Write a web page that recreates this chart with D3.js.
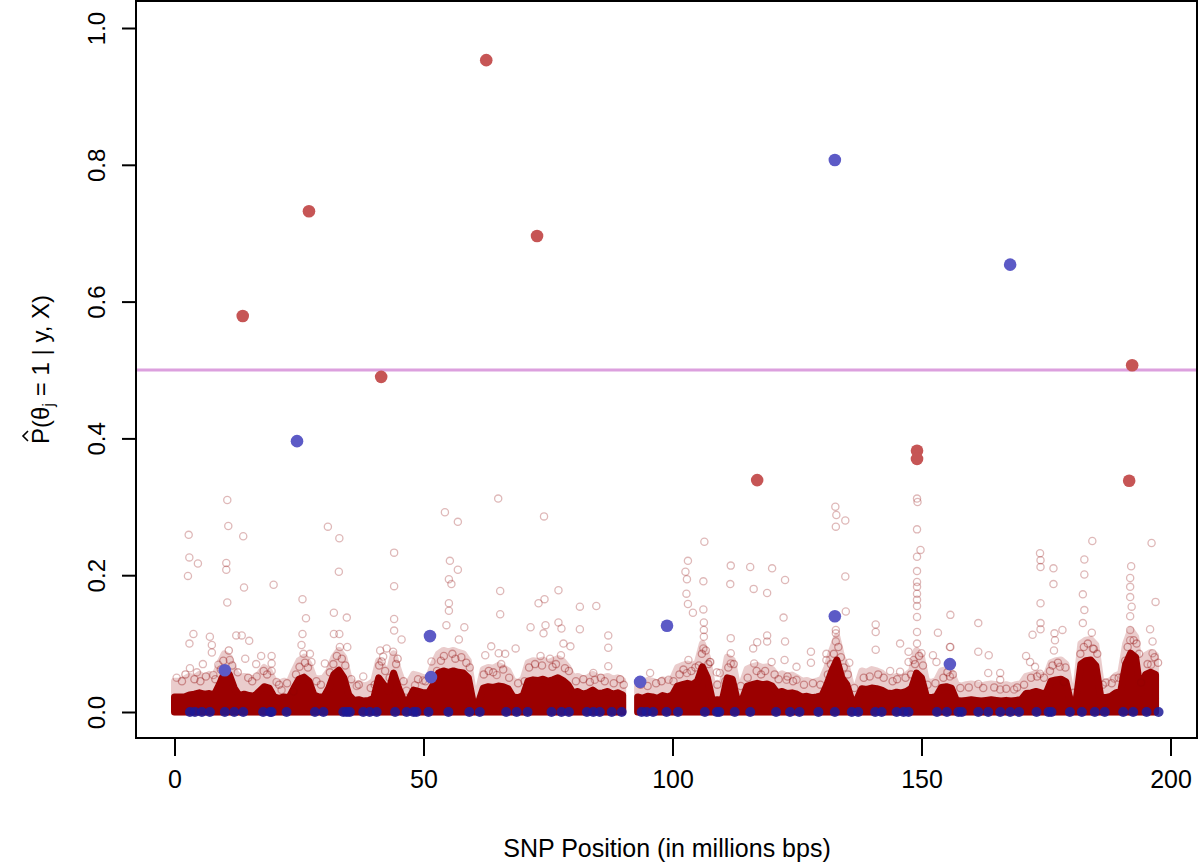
<!DOCTYPE html>
<html><head><meta charset="utf-8">
<script src="https://cdn.jsdelivr.net/npm/d3@7/dist/d3.min.js"></script>
<style>body{margin:0;background:#fff}svg{display:block}text{font-family:"Liberation Sans",Arial,sans-serif}</style>
</head><body><svg id="c" width="1200" height="862"></svg>
<script>
// ---------- data ----------
const xTicks = [0, 50, 100, 150, 200];
const yTicks = [0, 0.2, 0.4, 0.6, 0.8, 1.0];
const threshold = 0.5;

// dense band of low posterior probabilities: upper edge of the solid mass (per 1 Mb, Mb 0..197)
const bandCore = [.022,.022,.022,.025,.026,.028,.026,.027,.025,.04,.057,.055,.035,.024,.026,.024,.023,.03,.037,.035,
.022,.02,.022,.021,.035,.048,.051,.045,.025,.022,.022,.035,.055,.061,.05,.025,.017,.018,.016,.017,
.02,.05,.04,.03,.057,.035,.017,.018,.032,.03,.028,.028,.04,.057,.06,.058,.06,.058,.057,.05,
.013,.013,.035,.037,.036,.038,.037,.034,.022,.021,.024,.045,.047,.046,.048,.045,.047,.05,.046,.04,
.028,.03,.026,.028,.032,.027,.028,.03,.026,.028,.025,null,null,.022,.02,.023,.022,.02,.024,.022,
.025,.038,.04,.042,.04,.045,.066,.05,.017,.018,.017,.05,.048,.017,.018,.038,.04,.042,.04,.041,
.038,.028,.03,.027,.028,.026,.022,.023,.021,.022,.024,.04,.06,.076,.05,.04,.017,.018,.034,.033,
.035,.034,.032,.028,.027,.029,.028,.03,.035,.057,.05,.022,.021,.023,.036,.037,.035,.017,.016,.017,
.018,.017,.016,.017,.018,.017,.016,.017,.016,.017,.018,.027,.028,.03,.028,.027,.045,.047,.048,.044,
.013,.014,.07,.075,.076,.068,.022,.021,.023,.028,.03,.07,.086,.08,.028,.055,.058,.055];
// upper edge of the lighter, semi-dense fringe above it
const bandHalo = [.045,.045,.048,.052,.05,.055,.05,.055,.05,.07,.085,.08,.06,.05,.052,.05,.048,.055,.065,.06,
.045,.042,.045,.043,.06,.075,.08,.07,.05,.048,.05,.06,.08,.09,.08,.05,.04,.042,.038,.04,
.045,.075,.065,.055,.085,.06,.04,.042,.055,.053,.05,.05,.07,.085,.09,.088,.09,.087,.085,.075,
.03,.03,.062,.065,.064,.068,.065,.06,.045,.043,.048,.072,.075,.074,.076,.072,.075,.078,.074,.065,
.05,.052,.048,.05,.055,.05,.05,.052,.048,.05,.046,null,null,.045,.042,.046,.045,.042,.047,.045,
.048,.065,.068,.07,.068,.072,.1,.08,.04,.042,.04,.08,.076,.04,.042,.063,.066,.068,.065,.066,
.062,.052,.056,.052,.054,.05,.045,.046,.043,.045,.048,.065,.09,.11,.08,.065,.035,.037,.06,.058,
.062,.06,.057,.05,.049,.052,.05,.054,.06,.09,.08,.045,.043,.046,.06,.062,.058,.04,.038,.04,
.041,.04,.038,.04,.041,.04,.038,.04,.038,.04,.041,.052,.054,.056,.054,.052,.072,.075,.076,.07,
.03,.032,.1,.105,.106,.098,.045,.043,.046,.053,.056,.1,.12,.11,.05,.083,.087,.083];

// individual SNPs scattered above the band: [position Mb, probability]
const scatterSNPs = [
[10.6,.31],[10.8,.272],[13.8,.257],[2.85,.259],[2.98,.226],[4.7,.217],[2.7,.199],[10.4,.218],[10.4,.208],[13.96,.182],
[10.6,.16],[19.9,.186],[30.8,.271],[33.1,.254],[33.0,.205],[25.7,.165],[44.1,.233],[44.1,.184],[44.1,.136],[44.1,.119],
[26.4,.137],[32.0,.145],[34.6,.138],[25.7,.114],[3.8,.114],[3.0,.1],[7.1,.11],[7.5,.098],[7.5,.087],[12.4,.112],
[13.5,.112],[15.0,.104],[32.0,.114],[33.1,.114],[33.2,.095],[34.7,.095],[45.6,.106],[43.9,.088],[41.3,.09],[42.6,.093],
[17.4,.082],[19.5,.082],[19.5,.071],[19.5,.06],[25.5,.098],[25.9,.085],[27.2,.085],[27.5,.073],[30.2,.071],[0.43,.05],
[5.7,.07],[3.1,.064],[4.5,.058],[7.8,.054],[8.8,.069],[11.1,.076],[14.2,.078],[16.4,.07],[16.5,.052],[20.5,.044],
[21.5,.032],[23.9,.03],[36.6,.038],[37.9,.052],[41.9,.081],[46.6,.031],[48.3,.039],[49.9,.046],
[54.3,.292],[56.9,.278],[65.0,.312],[74.2,.286],[55.3,.221],[56.9,.208],[55.1,.194],[55.6,.187],[65.4,.177],[65.4,.143],
[55.1,.159],[55.1,.148],[54.6,.127],[58.2,.124],[57.1,.106],[73.1,.159],[74.3,.165],[77.1,.178],[81.4,.154],[84.7,.155],
[71.5,.124],[74.5,.127],[74.1,.115],[77.1,.131],[77.7,.122],[81.4,.121],[87.1,.112],[87.1,.094],[78.1,.1],[79.5,.096],
[63.6,.096],[68.5,.093],[65.1,.086],[66.4,.085],[62.4,.083],[65.6,.07],[73.5,.082],[75.4,.078],[77.6,.083],[51.6,.074],
[87.1,.067],[84.1,.057],[84.4,.047],[64.7,.054],[103.1,.221],[102.6,.205],[102.9,.194],[106.4,.249],[106.2,.191],[102.8,.173],
[103.1,.158],[104.1,.145],[106.2,.15],[106.3,.131],[106.3,.12],[106.3,.11],[106.2,.093],[103.2,.076],[107.6,.073],[95.5,.057],
[99.2,.047],[102.9,.057],[108.9,.058],
[111.7,.214],[115.6,.212],[120.0,.21],[111.6,.187],[116.3,.18],[122.6,.193],[119.0,.174],[132.7,.3],[132.9,.288],[134.7,.28],
[132.8,.271],[134.7,.198],[149.1,.312],[149.2,.307],[149.1,.267],[149.8,.237],[149.1,.227],[149.1,.206],[149.1,.19],[149.1,.183],
[149.1,.173],[149.1,.164],[149.1,.155],[149.1,.139],[149.1,.117],[149.1,.1],[150.0,.086],[148.4,.076],[122.3,.138],[122.6,.103],
[111.7,.108],[111.7,.086],[111.7,.071],[119.0,.112],[119.0,.103],[117.0,.102],[116.2,.093],[116.4,.071],[119.9,.073],[122.5,.076],
[127.8,.088],[127.8,.072],[130.9,.085],[130.9,.076],[135.5,.072],[132.8,.12],[132.8,.103],[132.8,.115],[134.8,.147],[140.8,.128],
[140.8,.117],[140.8,.091],[145.7,.1],[147.4,.088],[147.4,.073],[145.7,.059],[143.7,.06],[153.3,.116],[155.8,.142],[155.8,.095],
[153.0,.073],[152.3,.083],[107.5,.073],[109.5,.057],[124.9,.066],[124.9,.047],[122.9,.047],
[184.3,.25],[196.2,.247],[173.8,.232],[173.9,.222],[173.9,.212],[176.5,.21],[176.5,.187],[182.7,.223],[182.7,.201],[182.4,.172],
[182.7,.149],[182.4,.13],[184.2,.116],[184.4,.093],[173.9,.159],[173.9,.13],[173.9,.121],[172.3,.113],[176.7,.115],[176.8,.105],
[178.3,.12],[176.6,.09],[177.8,.066],[178.6,.044],[192.1,.213],[191.9,.196],[191.9,.183],[191.9,.168],[192.2,.154],[191.9,.14],
[191.9,.12],[191.9,.105],[197.0,.161],[195.9,.121],[196.4,.103],[196.4,.086],[196.1,.069],[161.4,.13],[161.4,.088],[163.5,.083],
[163.4,.057],[165.8,.057],[165.8,.047],[165.8,.033],[161.4,.041],[168.6,.033],[171.0,.082],[171.8,.073],[172.8,.066],[173.8,.056],
[187.0,.043],[188.7,.049],[194.1,.043],[155.7,.095],[155.7,.052]
];

// SNPs in the semi-dense fringe just above the solid band: [position Mb, probability]
const fringeSNPs = [
[1.5,.045],[2.2,.055],[4.0,.048],[5.2,.045],[6.3,.052],[8.2,.048],[9.3,.062],[9.8,.075],[10.9,.09],[11.6,.068],
[12.7,.058],[14.8,.05],[15.6,.045],[17.9,.06],[18.6,.055],[21.0,.04],[22.6,.042],[24.4,.055],[25.1,.066],[26.2,.072],
[26.8,.065],[28.5,.045],[29.4,.04],[31.2,.058],[31.9,.07],[32.6,.082],[33.6,.078],[34.3,.068],[35.5,.048],[37.0,.04],
[39.4,.035],[40.2,.04],[41.1,.068],[41.6,.074],[42.3,.06],[43.2,.05],[44.5,.07],[44.8,.078],[46.0,.045],[48.9,.048],
[50.4,.045],[51.9,.052],[52.7,.06],[53.5,.075],[54.1,.082],[55.8,.085],[56.4,.078],[57.6,.08],[58.6,.072],[59.3,.065],
[62.1,.055],[63.1,.06],[64.0,.058],[66.0,.062],[67.2,.05],[69.0,.042],[70.3,.045],[71.2,.065],[72.4,.07],[73.8,.068],
[75.9,.066],[76.6,.07],[78.4,.064],[79.2,.06],[80.6,.045],[82.1,.048],[83.4,.044],[85.6,.05],[86.4,.045],[88.2,.042],
[89.5,.048],[90.2,.04],[93.6,.04],[95.0,.038],[96.7,.042],[97.8,.045],[100.2,.045],[101.4,.055],[102.2,.062],[103.8,.06],
[104.6,.065],[105.3,.068],[105.9,.085],[106.7,.09],[107.2,.07],[109.0,.04],[110.6,.045],[111.2,.065],[112.3,.07],[113.7,.038],
[115.1,.05],[116.9,.06],[117.8,.055],[118.6,.06],[120.5,.055],[121.3,.048],[123.1,.052],[124.2,.045],[126.4,.04],[128.2,.042],
[129.7,.04],[131.2,.055],[131.8,.07],[132.4,.085],[133.3,.095],[133.8,.08],[134.4,.065],[135.2,.055],[136.5,.035],[138.4,.05],
[139.6,.052],[141.3,.055],[142.4,.05],[144.2,.045],[145.1,.048],[146.8,.05],[147.9,.055],[148.7,.07],[149.5,.082],[150.3,.068],
[151.2,.04],[152.8,.042],[154.4,.05],[155.2,.058],[156.3,.055],[157.8,.035],[159.5,.036],[162.4,.035],[164.6,.036],[167.0,.034],
[169.2,.036],[170.6,.04],[172.0,.05],[173.2,.052],[174.6,.05],[175.8,.06],[176.3,.068],[177.4,.072],[178.9,.065],[180.5,.028],
[181.9,.085],[182.6,.095],[183.4,.1],[184.6,.092],[185.3,.085],[186.4,.04],[188.2,.042],[189.6,.05],[190.4,.052],[190.9,.075],
[191.4,.095],[192.6,.105],[193.2,.1],[193.7,.085],[194.6,.045],[195.4,.07],[196.8,.08],[197.5,.072]
];

// true causal SNPs (highlighted): red group and blue group
const redCausalMb = [13.7, 27.0, 41.5, 62.6, 72.8, 117.0, 149.1, 149.1, 192.3, 191.7];
const redCausalP  = [0.579, 0.732, 0.49, 0.953, 0.696, 0.339, 0.382, 0.37, 0.507, 0.338];
const blueCausalMb = [10.1, 24.6, 51.3, 51.5, 93.5, 98.9, 132.6, 132.6, 155.7, 167.8];
const blueCausalP  = [0.061, 0.396, 0.111, 0.051, 0.044, 0.126, 0.807, 0.14, 0.07, 0.654];

// blue-group SNPs with probability ~0
const blueZeroMb = [3.1,4.1,5.5,7.1,10.1,12.0,13.8,17.8,19.2,19.5,22.5,28.2,29.9,33.9,34.6,35.2,37.9,39.2,40.6,44.3,
46.6,48.0,48.6,51.0,55.0,59.2,61.3,66.6,68.7,70.9,75.7,77.7,79.2,82.8,84.1,85.4,87.8,89.8,93.8,94.8,
96.1,98.8,101.1,106.5,108.9,109.4,112.5,115.6,120.8,123.6,125.5,129.3,132.6,136.0,137.3,140.7,142.0,145.0,146.4,147.4,
153.1,155.1,157.4,158.1,161.4,163.4,165.8,167.8,169.6,173.1,175.5,176.1,179.8,182.2,184.8,186.8,190.5,192.5,195.2,197.6];
const blueZeroP = 0.0;

// ---------- chart ----------
const svg = d3.select("#c");
const x = d3.scaleLinear().domain([0, 200]).range([174.5, 1170.5]);
const y = d3.scaleLinear().domain([0, 1]).range([712, 28]);
const plotL = 136, plotT = 1, plotR = 1197, plotB = 738;

// halo band
const area = d3.area().defined(d => d != null).x((d, i) => x(i)).y0(y(0)).y1(d => y(d));
svg.append("g").attr("opacity", 0.22)
  .append("path").datum(bandHalo).attr("d", area)
  .attr("fill", "#a51a1a").attr("stroke", "#a51a1a").attr("stroke-width", 7).attr("stroke-linejoin", "round");

// fringe SNPs
svg.append("g").selectAll("circle").data(fringeSNPs).join("circle")
  .attr("cx", d => x(d[0])).attr("cy", d => y(d[1])).attr("r", 3.6)
  .attr("fill", "none").attr("stroke", "#8b0000").attr("stroke-opacity", 0.35).attr("stroke-width", 1.3);

// core band
svg.append("path").datum(bandCore).attr("d", area)
  .attr("fill", "#9b0000").attr("stroke", "#9b0000").attr("stroke-width", 7).attr("stroke-linejoin", "round");

// scattered SNPs (open, translucent)
svg.append("g").selectAll("circle").data(scatterSNPs).join("circle")
  .attr("cx", d => x(d[0])).attr("cy", d => y(d[1])).attr("r", 3.6)
  .attr("fill", "none").attr("stroke", "#8b0000").attr("stroke-opacity", 0.28).attr("stroke-width", 1.3);

// blue zero SNPs
svg.append("g").selectAll("circle").data(blueZeroMb).join("circle")
  .attr("cx", d => x(d)).attr("cy", y(blueZeroP)).attr("r", 5)
  .attr("fill", "#1c1a98").attr("opacity", 0.85);

// threshold line
svg.append("line").attr("x1", plotL + 1).attr("x2", plotR - 1)
  .attr("y1", y(threshold)).attr("y2", y(threshold))
  .attr("stroke", "#dca0de").attr("stroke-width", 3);

// causal SNPs
svg.append("g").selectAll("circle").data(redCausalMb).join("circle")
  .attr("cx", d => x(d)).attr("cy", (d, i) => y(redCausalP[i])).attr("r", 6.3)
  .attr("fill", "#c65555");
svg.append("g").selectAll("circle").data(blueCausalMb).join("circle")
  .attr("cx", d => x(d)).attr("cy", (d, i) => y(blueCausalP[i])).attr("r", 6.3)
  .attr("fill", "#5c5ac6");

// box
svg.append("rect").attr("x", plotL).attr("y", plotT).attr("width", plotR - plotL).attr("height", plotB - plotT)
  .attr("fill", "none").attr("stroke", "#000").attr("stroke-width", 2);

// x axis
const xa = svg.append("g").attr("transform", `translate(0,${plotB})`)
  .call(d3.axisBottom(x).tickValues(xTicks).tickSize(18).tickPadding(14).tickFormat(d3.format("d")));
xa.select(".domain").remove();
xa.selectAll("line").attr("stroke", "#000").attr("stroke-width", 2);
xa.selectAll("text").attr("font-size", 25).attr("fill", "#000").attr("font-family", "Liberation Sans, Arial, sans-serif");

// y axis
const ya = svg.append("g").attr("transform", `translate(${plotL},0)`)
  .call(d3.axisLeft(y).tickValues(yTicks).tickSize(14).tickFormat(d3.format(".1f")));
ya.select(".domain").remove();
ya.selectAll("line").attr("stroke", "#000").attr("stroke-width", 2);
ya.selectAll("text").attr("font-size", 24).attr("fill", "#000").attr("font-family", "Liberation Sans, Arial, sans-serif")
  .attr("transform", "rotate(-90)").attr("x", 0).attr("y", -31).attr("dy", 0).attr("text-anchor", "middle");

// x label
svg.append("text").attr("x", (plotL + plotR) / 2 + 0.5).attr("y", 857).attr("text-anchor", "middle")
  .attr("font-size", 25).text("SNP Position (in millions bps)");

// y label with hat and subscript
const yl = svg.append("g").attr("transform", `translate(49,${(plotT + plotB) / 2}) rotate(-90)`);
const t = yl.append("text").attr("text-anchor", "middle").attr("font-size", 24).attr("x", 0).attr("y", 0);
t.append("tspan").text("P(θ");
t.append("tspan").attr("font-size", 17).attr("dy", 5).text("j");
t.append("tspan").attr("dy", -5).text(" = 1 | y, X)");
const total = t.node().getComputedTextLength();
const pW = t.node().getSubStringLength(0, 1);
const hx = -total / 2 + pW / 2;
yl.append("path").attr("d", `M${hx - 5},-21 L${hx},-26 L${hx + 5},-21`)
  .attr("fill", "none").attr("stroke", "#000").attr("stroke-width", 1.6);
</script></body></html>
